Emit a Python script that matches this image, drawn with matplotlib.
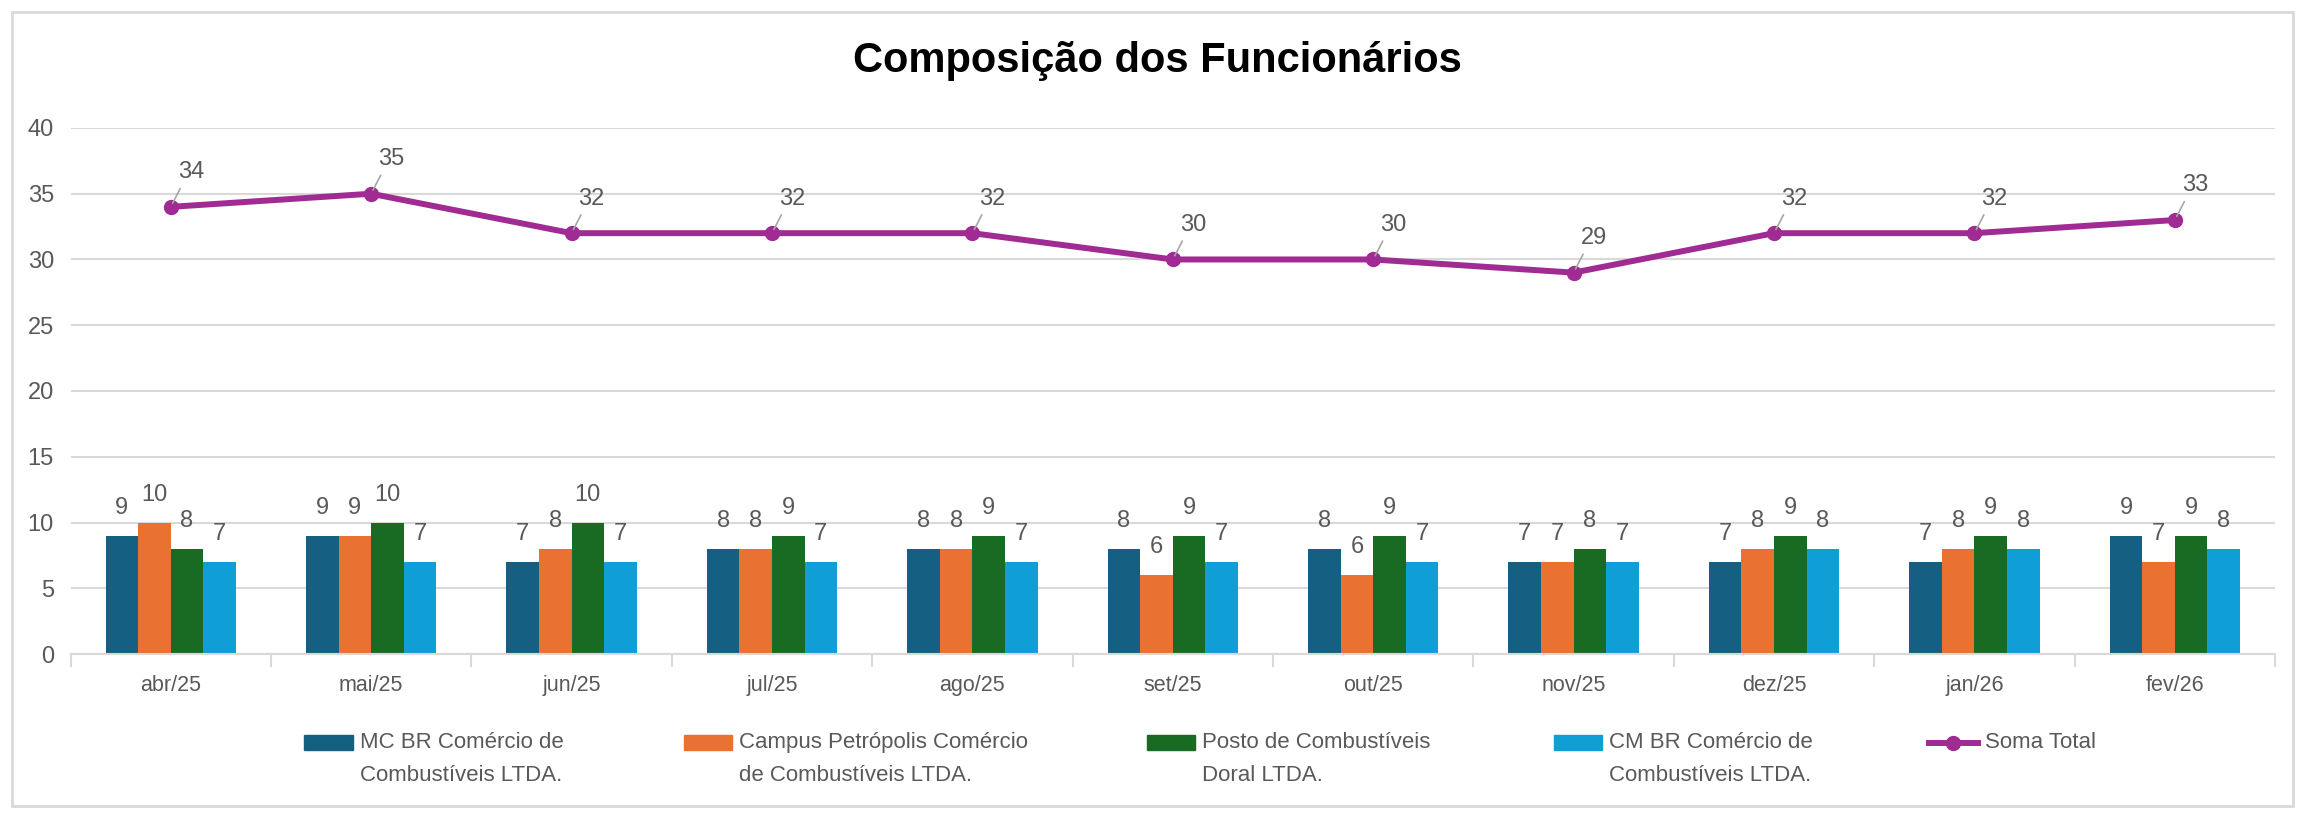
import matplotlib
matplotlib.use("Agg")
import matplotlib.pyplot as plt
import numpy as np
from matplotlib.patches import Rectangle
from matplotlib.lines import Line2D

months = ["abr/25", "mai/25", "jun/25", "jul/25", "ago/25", "set/25",
          "out/25", "nov/25", "dez/25", "jan/26", "fev/26"]

mc_br = [9, 9, 7, 8, 8, 8, 8, 7, 7, 7, 9]
campus = [10, 9, 8, 8, 8, 6, 6, 7, 8, 8, 7]
posto = [8, 10, 10, 9, 9, 9, 9, 8, 9, 9, 9]
cm_br = [7, 7, 7, 7, 7, 7, 7, 7, 8, 8, 8]
soma_total = [34, 35, 32, 32, 32, 30, 30, 29, 32, 32, 33]

bar_labels = [
    "MC BR Comércio de\nCombustíveis LTDA.",
    "Campus Petrópolis Comércio\nde Combustíveis LTDA.",
    "Posto de Combustíveis\nDoral LTDA.",
    "CM BR Comércio de\nCombustíveis LTDA.",
]
line_label = "Soma Total"

bar_colors = ["#156082", "#E97132", "#196B24", "#0F9ED5"]
line_color = "#A02B93"
grid_color = "#D9D9D9"
text_gray = "#595959"

num_font = ["Liberation Sans", "DejaVu Sans"]
narrow_font = ["Liberation Sans Narrow", "Liberation Sans", "DejaVu Sans"]

fig = plt.figure(figsize=(23.05, 8.15), dpi=100)
ax = fig.add_axes([0.0306, 0.1975, 0.9564, 0.6455])

x = np.arange(len(months))
width = 0.1625
series = [mc_br, campus, posto, cm_br]

for i, (vals, color) in enumerate(zip(series, bar_colors)):
    bars = ax.bar(x + (i - 1.5) * width, vals, width, color=color,
                  edgecolor="none", zorder=2)
    ax.bar_label(bars, padding=12, fontsize=17, color=text_gray,
                 family=num_font)

ax.plot(x, soma_total, color=line_color, lw=4.3, marker="o",
        markersize=10, zorder=3)

for xi, v in zip(x, soma_total):
    ax.annotate(str(v), (xi, v), xytext=(5, 17), textcoords="offset points",
                ha="left", va="bottom", fontsize=17, color=text_gray,
                family=num_font,
                arrowprops=dict(arrowstyle="-", color="#A6A6A6", lw=1.2,
                                relpos=(0.2, 0), shrinkA=2, shrinkB=3))

ax.set_xlim(-0.5, len(months) - 0.5)
ax.set_ylim(0, 40)
ax.set_yticks(np.arange(0, 41, 5))
ax.yaxis.grid(True, color=grid_color, lw=1.5, zorder=0)
ax.set_axisbelow(True)

ax.set_xticks(x)
ax.set_xticklabels(months, fontsize=15.5, color=text_gray, family=narrow_font)
ax.set_xticks(np.arange(-0.5, len(months), 1), minor=True)
ax.tick_params(axis="x", which="major", length=0, pad=15)
ax.tick_params(axis="x", which="minor", length=9, width=1.5, color=grid_color)
ax.tick_params(axis="y", length=0, pad=12, labelsize=17, labelcolor=text_gray)
for lbl in ax.get_yticklabels():
    lbl.set_family(num_font)

for side in ["top", "right", "left"]:
    ax.spines[side].set_visible(False)
ax.spines["bottom"].set_color(grid_color)
ax.spines["bottom"].set_linewidth(1.5)

fig.text(0.502, 0.925, "Composição dos Funcionários", ha="center",
         va="center", fontsize=30, fontweight="bold", color="black",
         family=narrow_font)

# legend drawn by hand so the keys sit on the first text line
leg_x = [0.132, 0.2966, 0.4974, 0.674, 0.837]
row_y = [0.0884, 0.0487]
key_w, key_h = 0.021, 0.0184
all_labels = bar_labels + [line_label]
for k, (lx, label) in enumerate(zip(leg_x, all_labels)):
    if k < len(bar_colors):
        fig.patches.append(Rectangle((lx, row_y[0] - key_h / 2), key_w, key_h,
                                     transform=fig.transFigure,
                                     color=bar_colors[k]))
    else:
        fig.lines.append(Line2D([lx, lx + key_w], [row_y[0], row_y[0]],
                                transform=fig.transFigure, color=line_color,
                                lw=4.3))
        fig.lines.append(Line2D([lx + key_w / 2], [row_y[0]],
                                transform=fig.transFigure, color=line_color,
                                marker="o", markersize=10))
    for j, line in enumerate(label.split("\n")):
        fig.text(lx + 0.0242, row_y[j], line, ha="left", va="center",
                 fontsize=16, color=text_gray, family=narrow_font)

fig.patches.append(Rectangle((0.0051, 0.0115), 0.9897, 0.974,
                             transform=fig.transFigure, fill=False,
                             edgecolor=grid_color, lw=2))

fig.savefig("out.png", dpi=100, facecolor="white")
